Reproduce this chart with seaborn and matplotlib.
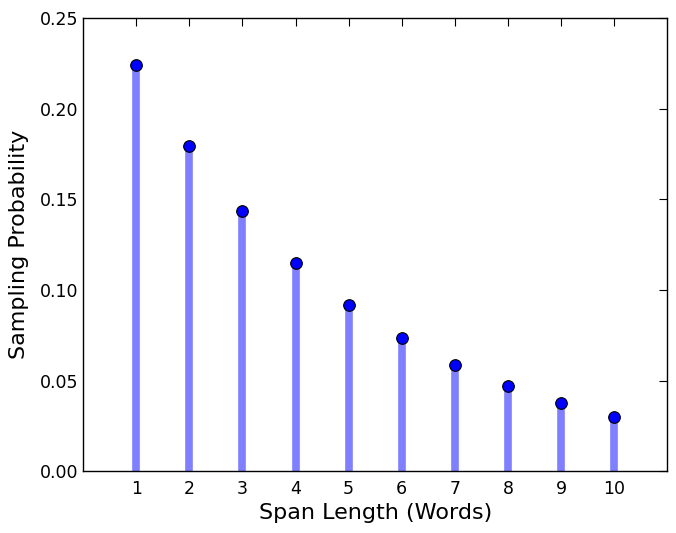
import matplotlib
matplotlib.use("Agg")
import matplotlib.pyplot as plt
import seaborn as sns
import pandas as pd

span_lengths = [1, 2, 3, 4, 5, 6, 7, 8, 9, 10]
probabilities = [0.2241, 0.1792, 0.1434, 0.1147, 0.0918, 0.0734, 0.0587, 0.0470, 0.0376, 0.0301]
yticks = [0.00, 0.05, 0.10, 0.15, 0.20, 0.25]

df = pd.DataFrame({"span": span_lengths, "prob": probabilities})

sns.set_style("white")
plt.rcParams['font.family'] = ['DejaVu Sans']

fig = plt.figure(figsize=(6.76, 5.33), dpi=100)
ax = fig.add_axes([0.123, 0.116, 0.864, 0.850])

ax.vlines(df["span"], 0, df["prob"], colors="blue", alpha=0.5, linewidth=5.5, zorder=2)
sns.scatterplot(data=df, x="span", y="prob", ax=ax, color="blue", edgecolor="black",
                s=70, linewidth=0.8, zorder=3, legend=False)

ax.set_xlim(0, 11)
ax.set_ylim(0, 0.25)
ax.set_xticks(span_lengths)
ax.set_yticks(yticks)
ax.set_yticklabels([f"{v:.2f}" for v in yticks])
ax.tick_params(direction="in", length=6, width=0.8, top=True, right=True, labelsize=12.5,
               colors="black", labelcolor="black")
ax.tick_params(axis="x", pad=6)
for s in ax.spines.values():
    s.set_color("black")
    s.set_linewidth(1.0)
ax.set_xlabel("Span Length (Words)", fontsize=16, color="black")
ax.set_ylabel("Sampling Probability", fontsize=16, color="black", labelpad=8)

fig.savefig("out.png", dpi=100)
